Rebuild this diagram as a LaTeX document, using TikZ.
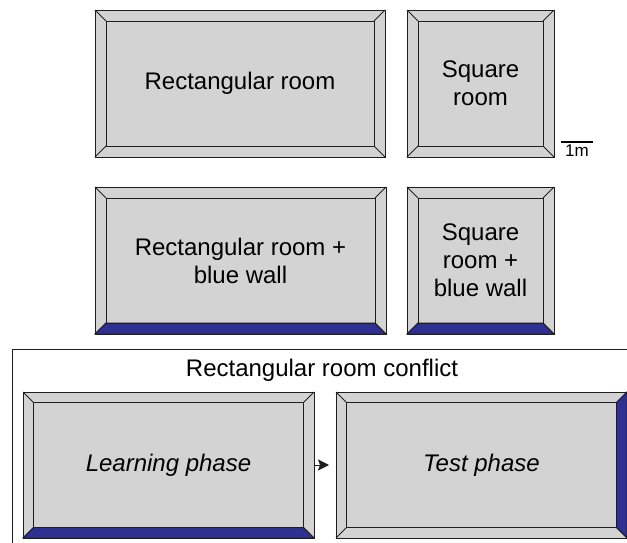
\documentclass[tikz,border=0pt]{standalone}
\usepackage{fontspec}
\setmainfont{Liberation Sans}
\usetikzlibrary{calc,arrows.meta}
\definecolor{roomgray}{RGB}{211,211,211}
\definecolor{wallblue}{RGB}{46,49,146}
\definecolor{edge}{RGB}{30,30,30}
\newcommand\roombevel[2]{%
  \draw[bev] ($(#1.north west)+(#2,#2)$) rectangle ($(#1.south east)+(-#2,-#2)$);
  \draw[bev] (#1.north west) -- ++(#2,#2);
  \draw[bev] (#1.north east) -- ++(-#2,#2);
  \draw[bev] (#1.south west) -- ++(#2,-#2);
  \draw[bev] (#1.south east) -- ++(-#2,-#2);
}
\newcommand\bluebottom[2]{%
  \filldraw[bev, fill=wallblue] (#1.south west) -- (#1.south east) -- ++(-#2,-#2) -- ($(#1.south west)+(#2,-#2)$) -- cycle;
}
\newcommand\blueright[2]{%
  \filldraw[bev, fill=wallblue] (#1.north east) -- (#1.south east) -- ++(-#2,-#2) -- ($(#1.north east)+(-#2,#2)$) -- cycle;
}
\begin{document}
\begin{tikzpicture}[x=1pt,y=-1pt,
  bev/.style={draw=edge, line width=0.9pt},
  room/.style={draw=edge, line width=0.9pt, fill=roomgray, inner sep=0pt, outer sep=0pt,
    anchor=north west, align=center, font=\fontsize{24}{28}\selectfont},
  arr/.style={draw=edge, line width=0.9pt, -{Stealth[length=11pt,width=11pt,inset=2pt]}}
]
\useasboundingbox (0,0) rectangle (627,543);
\clip (0,0) rectangle (627,543);
% top rooms
\node[room, minimum width=290pt, minimum height=147pt] (r1) at (95,10) {Rectangular room};
\roombevel{r1}{11}
\node[room, minimum width=147pt, minimum height=147pt] (r2) at (407,10) {Square\\room};
\roombevel{r2}{11}
% scale bar
\coordinate (sbl) at (561,141.5);
\coordinate (sbr) at (593,141.5);
\draw[line width=2pt, black] (sbl) -- (sbr);
\node[anchor=north, inner sep=0pt, font=\fontsize{17}{19}\selectfont] (sbt) at (577,145) {1m};
% blue wall rooms
\node[room, minimum width=291pt, minimum height=147pt] (r3) at (95,187) {Rectangular room +\\blue wall};
\bluebottom{r3}{11}
\roombevel{r3}{11}
\node[room, minimum width=147pt, minimum height=147pt] (r4) at (407,187) {Square\\room +\\blue wall};
\bluebottom{r4}{11}
\roombevel{r4}{11}
% conflict frame
\node[draw=edge, line width=0.9pt, inner sep=0pt, anchor=north west, minimum width=640pt, minimum height=220pt] (frame) at (12,349) {};
\node[font=\fontsize{24}{28}\selectfont, inner sep=0pt] (title) at (322,370) {Rectangular room conflict};
\node[room, minimum width=291pt, minimum height=146pt, font=\fontsize{24}{28}\selectfont\itshape] (learn) at (23,392) {Learning phase};
\bluebottom{learn}{10.5}
\roombevel{learn}{10.5}
\node[room, minimum width=291pt, minimum height=146pt, font=\fontsize{24}{28}\selectfont\itshape] (test) at (336,392) {Test phase};
\blueright{test}{10.5}
\roombevel{test}{10.5}
\draw[arr, shorten >=7pt] (learn) -- (test);
\end{tikzpicture}
\end{document}
